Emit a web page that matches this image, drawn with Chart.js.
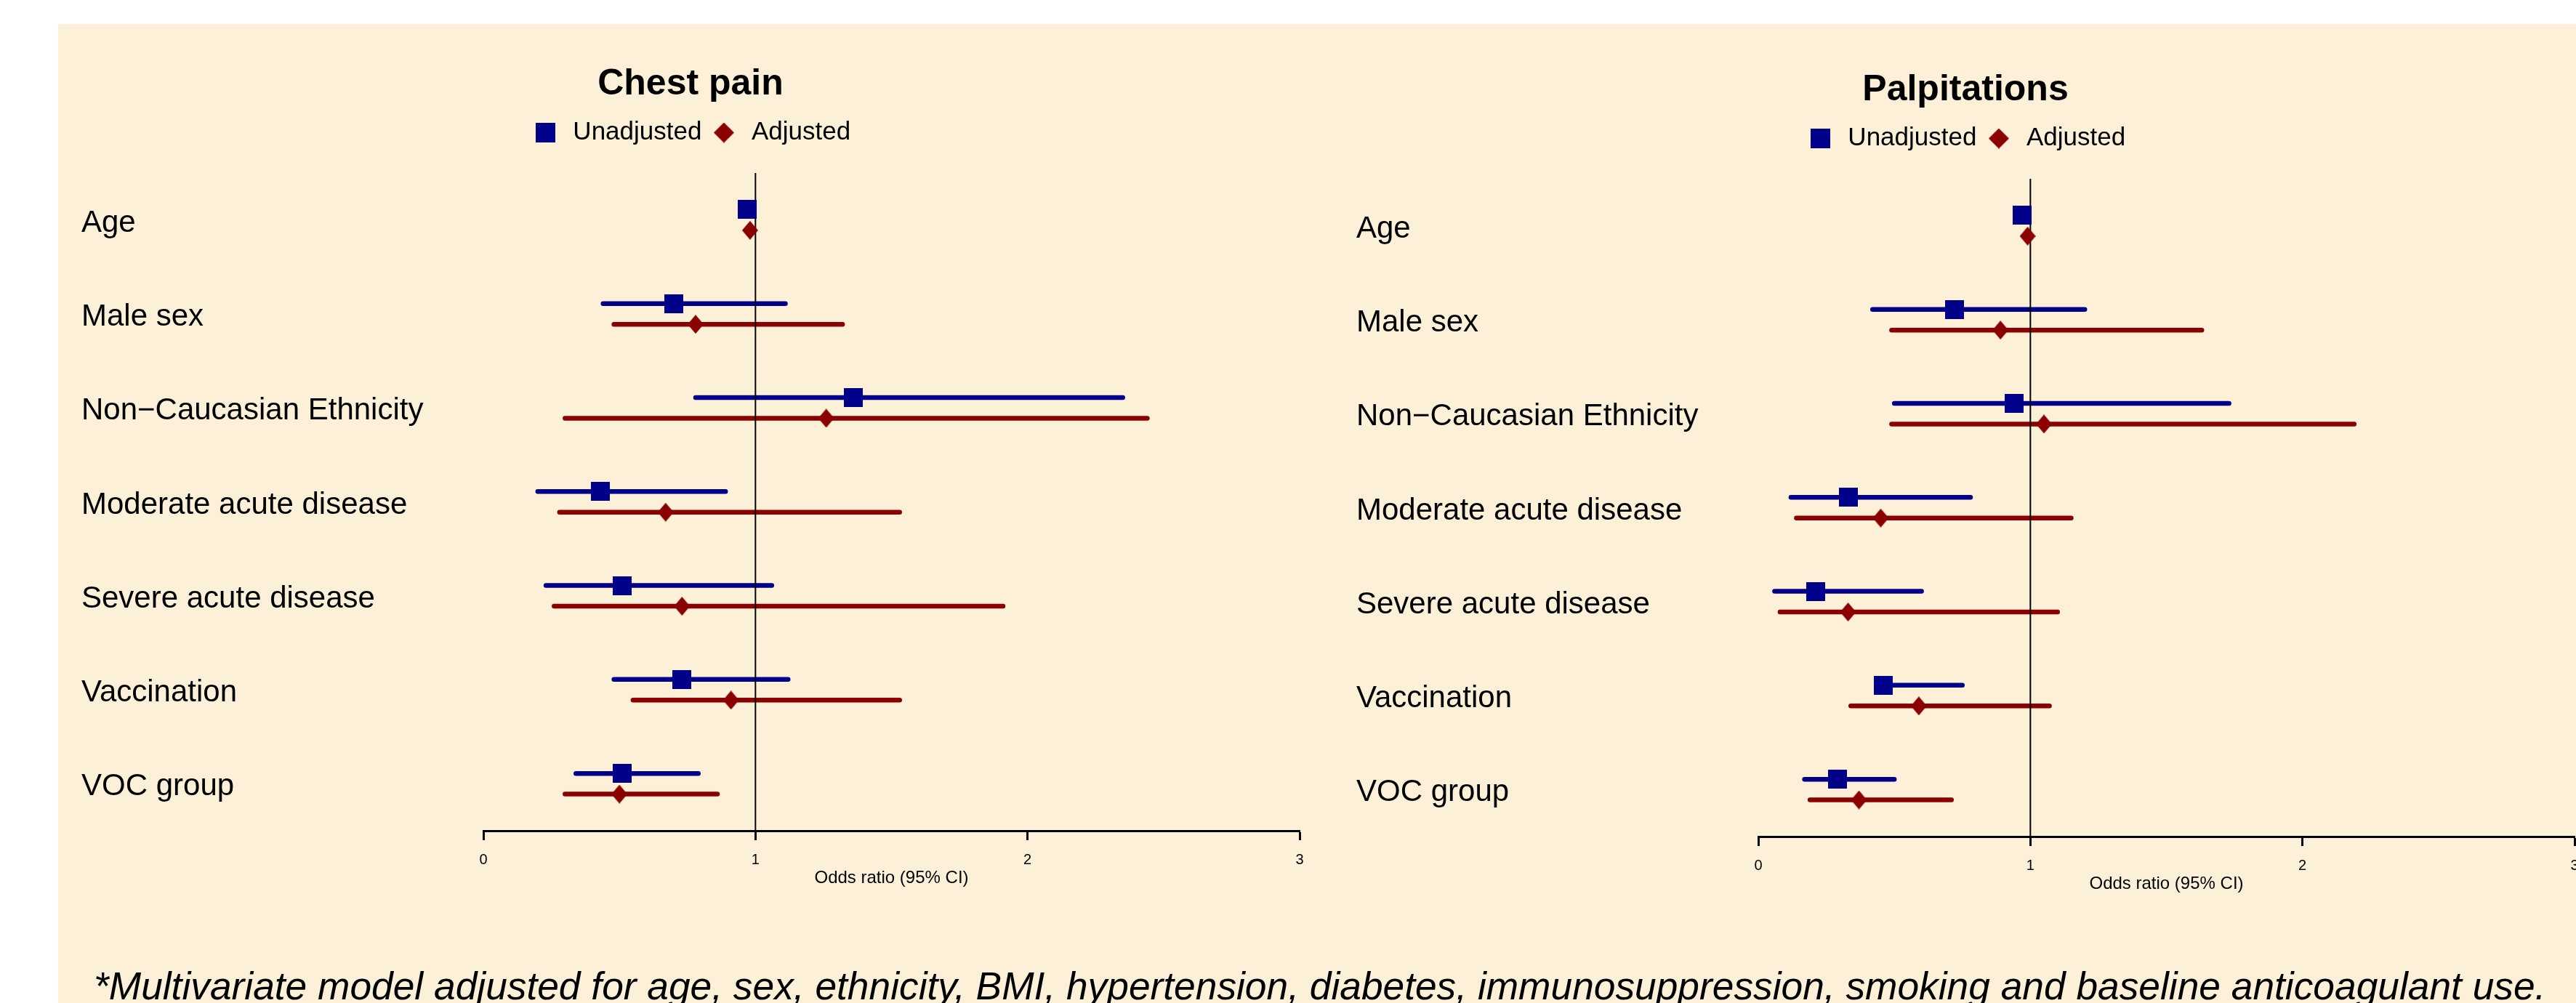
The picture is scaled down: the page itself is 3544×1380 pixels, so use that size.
<!DOCTYPE html>
<html>
<head>
<meta charset="utf-8">
<title>Chest pain and palpitations - odds ratios</title>
<script src="https://cdn.jsdelivr.net/npm/chart.js@4.4.1/dist/chart.umd.min.js"></script>
<style>
  html, body { margin: 0; padding: 0; background: #ffffff; }
  body { width: 3544px; height: 1380px; position: relative; overflow: hidden; }
  .panel-bg { position: absolute; left: 80px; top: 33px; right: 0; bottom: 0; background: #fcf0d9; }
  canvas { position: absolute; }
  #chestPain { left: 80px; top: 33px; }
  #palpitations { left: 1834px; top: 41px; }
  .footnote {
    position: absolute; left: 129px; top: 1330px;
    font-family: "Liberation Sans", Arial, sans-serif;
    font-style: italic; font-size: 53.3px; line-height: 53px;
    white-space: nowrap; color: #000;
  }
</style>
</head>
<body>
<div class="panel-bg"></div>
<canvas id="chestPain" width="1754" height="1190"></canvas>
<canvas id="palpitations" width="1754" height="1190"></canvas>
<div class="footnote">*Multivariate model adjusted for age, sex, ethnicity, BMI, hypertension, diabetes, immunosuppression, smoking and baseline anticoagulant use.</div>

<script>
const categories = [
  "Age",
  "Male sex",
  "Non\u2212Caucasian Ethnicity",
  "Moderate acute disease",
  "Severe acute disease",
  "Vaccination",
  "VOC group",
];
const xTicks = [0, 1, 2, 3];

// Chest pain
const chestUnadjOR = [0.97, 0.70, 1.36, 0.43, 0.51, 0.73, 0.51];
const chestUnadjLow = [0.96, 0.44, 0.78, 0.20, 0.23, 0.48, 0.34];
const chestUnadjHigh = [0.98, 1.11, 2.35, 0.89, 1.06, 1.12, 0.79];
const chestAdjOR = [0.98, 0.78, 1.26, 0.67, 0.73, 0.91, 0.50];
const chestAdjLow = [0.97, 0.48, 0.30, 0.28, 0.26, 0.55, 0.30];
const chestAdjHigh = [0.99, 1.32, 2.44, 1.53, 1.91, 1.53, 0.86];

// Palpitations
const palpUnadjOR = [0.97, 0.72, 0.94, 0.33, 0.21, 0.46, 0.29];
const palpUnadjLow = [0.96, 0.42, 0.50, 0.12, 0.06, 0.45, 0.17];
const palpUnadjHigh = [0.98, 1.20, 1.73, 0.78, 0.60, 0.75, 0.50];
const palpAdjOR = [0.99, 0.89, 1.05, 0.45, 0.33, 0.59, 0.37];
const palpAdjLow = [0.98, 0.49, 0.49, 0.14, 0.08, 0.34, 0.19];
const palpAdjHigh = [1.00, 1.63, 2.19, 1.15, 1.10, 1.07, 0.71];

const FONT = '"Liberation Sans", Arial, sans-serif';
const BLUE = "#00008b";
const RED = "#8b0000";
const rowOffset = 0.11; // unadjusted above, adjusted below the row centre

Chart.defaults.font.family = FONT;
Chart.defaults.color = "#000";

function makeSquare(size, color) {
  const c = document.createElement("canvas");
  c.width = size;
  c.height = size;
  const g = c.getContext("2d");
  g.fillStyle = color;
  g.fillRect(0, 0, size, size);
  return c;
}

function makeDiamond(w, h, color) {
  const c = document.createElement("canvas");
  c.width = w;
  c.height = h;
  const g = c.getContext("2d");
  g.fillStyle = color;
  g.beginPath();
  g.moveTo(w / 2, 0);
  g.lineTo(w, h / 2);
  g.lineTo(w / 2, h);
  g.lineTo(0, h / 2);
  g.closePath();
  g.fill();
  return c;
}

const squareMark = makeSquare(26, BLUE);
const diamondMark = makeDiamond(22, 26, RED);
const legendSquare = makeSquare(27, BLUE);
const legendDiamond = makeDiamond(28, 28, RED);

function ciLine(low, high, y, color) {
  return {
    data: [{ x: low, y: y }, { x: high, y: y }],
    showLine: true,
    borderColor: color,
    borderWidth: 6.5,
    borderCapStyle: "round",
    pointRadius: 0,
    pointHoverRadius: 0,
    order: 2,
  };
}

function buildDatasets(unadjOR, unadjLow, unadjHigh, adjOR, adjLow, adjHigh) {
  const sets = [];
  categories.forEach((cat, i) => {
    sets.push(ciLine(unadjLow[i], unadjHigh[i], i - rowOffset, BLUE));
    sets.push(ciLine(adjLow[i], adjHigh[i], i + rowOffset, RED));
  });
  // line of no effect at OR = 1
  sets.push({
    data: [{ x: 1, y: -0.5 }, { x: 1, y: categories.length - 0.5 }],
    showLine: true,
    borderColor: "#000",
    borderWidth: 2,
    pointRadius: 0,
    pointHoverRadius: 0,
    order: 1,
  });
  sets.push({
    label: "Unadjusted",
    data: unadjOR.map((v, i) => ({ x: v, y: i - rowOffset })),
    pointStyle: squareMark,
    pointRadius: 13,
    order: 0,
  });
  sets.push({
    label: "Adjusted",
    data: adjOR.map((v, i) => ({ x: v, y: i + rowOffset })),
    pointStyle: diamondMark,
    pointRadius: 13,
    order: 0,
  });
  return sets;
}

function forestChart(canvasId, title, datasets) {
  return new Chart(document.getElementById(canvasId), {
    type: "scatter",
    data: { datasets },
    options: {
      responsive: false,
      animation: false,
      events: [],
      layout: { padding: { left: 32, right: 46, top: 0, bottom: 0 } },
      plugins: {
        title: {
          display: true,
          text: title,
          color: "#000",
          font: { family: FONT, size: 50, weight: "bold" },
          padding: { top: 53, bottom: 9 },
        },
        legend: {
          display: true,
          labels: {
            color: "#000",
            font: { family: FONT, size: 35 },
            usePointStyle: true,
            pointStyleWidth: 41,
            padding: 10,
            generateLabels: () => [
              { text: "Unadjusted", pointStyle: legendSquare, fillStyle: BLUE, strokeStyle: BLUE, lineWidth: 0, hidden: false, fontColor: "#000" },
              { text: "Adjusted", pointStyle: legendDiamond, fillStyle: RED, strokeStyle: RED, lineWidth: 0, hidden: false, fontColor: "#000" },
            ],
          },
        },
        tooltip: { enabled: false },
      },
      scales: {
        x: {
          type: "linear",
          position: "bottom",
          min: 0,
          max: 3,
          afterBuildTicks: (s) => { s.ticks = xTicks.map((v) => ({ value: v })); },
          ticks: { color: "#000", font: { family: FONT, size: 20 }, padding: 15 },
          grid: { display: true, drawOnChartArea: false, drawTicks: true, tickLength: 13, tickColor: "#000", tickWidth: 3 },
          border: { display: true, color: "#000", width: 3 },
          title: {
            display: true,
            text: "Odds ratio (95% CI)",
            color: "#000",
            font: { family: FONT, size: 24 },
            padding: 0,
          },
          afterFit: (s) => { s.height = 80; },
        },
        // empty scale used only as a gap under the legend
        spacer: {
          type: "linear",
          axis: "x",
          position: "top",
          display: true,
          ticks: { display: false },
          grid: { display: false },
          border: { display: false },
          afterFit: (s) => { s.height = 28; },
        },
        y: {
          type: "linear",
          min: -0.5,
          max: categories.length - 0.5,
          reverse: true,
          afterBuildTicks: (s) => { s.ticks = categories.map((_, i) => ({ value: i })); },
          ticks: {
            // empty first line + small line height nudges the label a few px down
            callback: (v) => ["", categories[v]],
            crossAlign: "far",
            color: "#000",
            font: { family: FONT, size: 42, lineHeight: "9px" },
            padding: 0,
          },
          grid: { display: false },
          border: { display: false },
          afterFit: (s) => { s.width = 553; },
        },
      },
    },
  });
}

forestChart("chestPain", "Chest pain",
  buildDatasets(chestUnadjOR, chestUnadjLow, chestUnadjHigh, chestAdjOR, chestAdjLow, chestAdjHigh));
forestChart("palpitations", "Palpitations",
  buildDatasets(palpUnadjOR, palpUnadjLow, palpUnadjHigh, palpAdjOR, palpAdjLow, palpAdjHigh));
</script>
</body>
</html>
